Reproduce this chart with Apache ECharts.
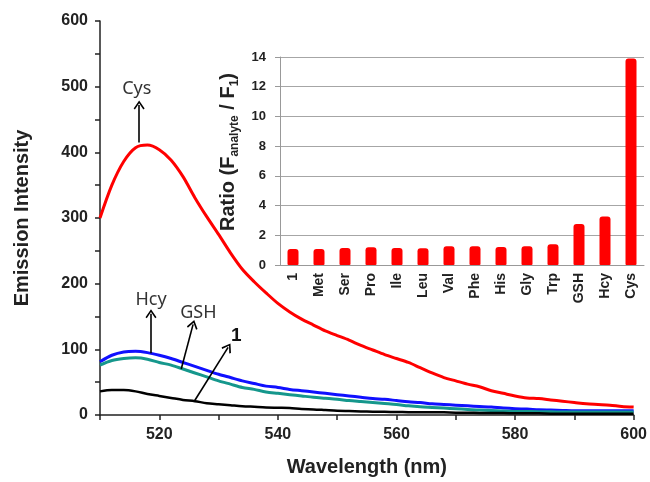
<!DOCTYPE html>
<html>
<head>
<meta charset="utf-8">
<script src="https://cdn.jsdelivr.net/npm/echarts@6/dist/echarts.min.js"></script>
<style>
  html, body { margin: 0; padding: 0; background: #fff; }
  #chart { width: 650px; height: 482px; }
</style>
</head>
<body>
<div id="chart"></div>
<script>
// emission spectra (every 2 nm)
const wavelengths = [510, 512, 514, 516, 518, 520, 522, 524, 526, 528, 530, 532, 534, 536, 538, 540,
  542, 544, 546, 548, 550, 552, 554, 556, 558, 560, 562, 564, 566, 568, 570,
  572, 574, 576, 578, 580, 582, 584, 586, 588, 590, 592, 594, 596, 598, 600]
const cys = [300, 350, 386, 407, 411, 404, 388, 363, 331, 302, 275, 247, 222, 203, 186, 170,
  157, 146, 137, 128, 121, 114, 106, 99, 92, 86, 80, 72, 64, 57, 52,
  47, 43, 37, 33, 29, 26, 25, 23, 21, 19, 17, 16, 15, 13, 12]
const hcy = [81, 91, 96, 97, 95, 91, 86, 80, 74, 68, 62, 57, 52, 48, 44, 42,
  39, 37, 35, 33, 31, 29, 27, 25, 24, 22, 20, 19, 17, 16, 15,
  14, 13, 12, 10.5, 9.5, 9, 8, 7.5, 7, 6.5, 6.5, 6.5, 6.5, 6.5, 6.5]
const gsh = [76, 83, 86, 87, 85, 80, 76, 70, 64, 58, 52, 47, 42, 39, 35, 33,
  31, 29, 27, 25.5, 24, 22, 20.5, 19, 17.5, 16, 14, 12.5, 11.5, 10.5, 9.5,
  8.5, 7.5, 7, 6, 5.5, 5.3, 5, 5, 4.5, 4.5, 4.5, 4.5, 4.5, 4.5, 4.5]
const probe = [36, 38, 38, 36, 32, 29, 26, 23, 21, 18, 16.5, 15, 13.5, 12.5, 11.5, 11,
  10.5, 9, 8.5, 7.5, 6.5, 6, 5.5, 5, 4.8, 4.5, 4.3, 4, 4, 4, 3.5,
  3.5, 3, 3, 3, 2.5, 2.5, 2.5, 2, 2, 2, 2, 2, 2, 2, 2]

// inset: ratio F(analyte)/F(1)
const analytes = ['1', 'Met', 'Ser', 'Pro', 'Ile', 'Leu', 'Val', 'Phe', 'His', 'Gly', 'Trp', 'GSH', 'Hcy', 'Cys']
const ratios = [1.08, 1.08, 1.14, 1.19, 1.14, 1.12, 1.26, 1.26, 1.21, 1.26, 1.39, 2.76, 3.27, 13.9]

const xLabelValues = [520, 540, 560, 580, 600]
const yLabelValues = [0, 100, 200, 300, 400, 500, 600]

const chart = echarts.init(document.getElementById('chart'))

const pairs = ys => wavelengths.map((w, i) => [w, ys[i]])
const arrowHead = 'path://M0,0L6,8L4.6,9.2L0,2.8L-4.6,9.2L-6,8Z'
const tickFont = { fontFamily: 'Liberation Sans', fontWeight: 'bold', fontSize: 16, color: '#222' }
const nameFont = { fontFamily: 'Liberation Sans', fontWeight: 'bold', fontSize: 20, color: '#222' }
const noteFont = { fontFamily: 'Noto Sans', fontSize: 18, color: '#333' }

const arrowLine = (from, to) => ({
  silent: true,
  symbol: ['none', arrowHead],
  symbolSize: [11, 9],
  label: { show: false },
  lineStyle: { color: '#000', width: 1.6, type: 'solid' },
  data: [[{ coord: from }, { coord: to }]]
})
const note = (name, at, extra) => ({
  silent: true,
  symbol: 'circle',
  symbolSize: 0,
  label: Object.assign({ show: true, position: 'inside', formatter: '{b}' }, noteFont, extra || {}),
  data: [{ name: name, coord: at }]
})

const option = {
  animation: false,
  grid: [
    { left: 100, right: 16, top: 21, bottom: 65 },
    { left: 280, right: 6, top: 57, bottom: 217 }
  ],
  xAxis: [
    {
      type: 'value', gridIndex: 0, min: 510, max: 600, interval: 10,
      name: 'Wavelength (nm)', nameLocation: 'middle', nameGap: 42,
      nameTextStyle: nameFont,
      axisLine: { lineStyle: { color: '#222', width: 1.5 } },
      axisTick: { length: 5, lineStyle: { color: '#222', width: 1.5 } },
      axisLabel: Object.assign({ margin: 12, formatter: v => xLabelValues.includes(v) ? v : '' }, tickFont),
      splitLine: { show: false }
    },
    {
      type: 'category', gridIndex: 1, data: analytes,
      axisLine: { lineStyle: { color: '#999' } },
      axisTick: { length: 5, lineStyle: { color: '#999' } },
      axisLabel: { rotate: 90, margin: 8, fontFamily: 'Liberation Sans', fontWeight: 'bold', fontSize: 14, color: '#222' }
    }
  ],
  yAxis: [
    {
      type: 'value', gridIndex: 0, min: 0, max: 600, interval: 50,
      name: 'Emission Intensity', nameLocation: 'middle', nameGap: 68,
      nameTextStyle: nameFont,
      axisLine: { show: true, lineStyle: { color: '#222', width: 1.5 } },
      axisTick: { show: true, length: 5, lineStyle: { color: '#222', width: 1.5 } },
      axisLabel: Object.assign({ margin: 12, formatter: v => yLabelValues.includes(v) ? v : '' }, tickFont),
      splitLine: { show: false }
    },
    {
      type: 'value', gridIndex: 1, min: 0, max: 14, interval: 2,
      name: '{a|Ratio (F}{sub|analyte}{a| / F}{sub|1}{a|)}',
      nameLocation: 'middle', nameGap: 34,
      nameTextStyle: {
        padding: [0, 0, 0, 18],
        rich: {
          a: { fontFamily: 'Liberation Sans', fontWeight: 'bold', fontSize: 20, color: '#222', lineHeight: 24 },
          sub: { fontFamily: 'Liberation Sans', fontWeight: 'bold', fontSize: 12, color: '#222', lineHeight: 12, verticalAlign: 'bottom' }
        }
      },
      axisLine: { show: true, lineStyle: { color: '#999' } },
      axisTick: { show: true, length: 5, lineStyle: { color: '#999' } },
      axisLabel: { margin: 14, fontFamily: 'Liberation Sans', fontWeight: 'bold', fontSize: 13, color: '#222' },
      splitLine: { show: true, lineStyle: { color: '#a6a6a6', width: 1 } }
    }
  ],
  series: [
    {
      name: 'Cys', type: 'line', xAxisIndex: 0, yAxisIndex: 0, data: pairs(cys),
      showSymbol: false, smooth: 0.3, lineStyle: { color: '#ff0000', width: 3 },
      markLine: arrowLine([516.6, 415], [516.6, 472]),
      markPoint: note('Cys', [516.2, 497])
    },
    {
      name: 'Hcy', type: 'line', xAxisIndex: 0, yAxisIndex: 0, data: pairs(hcy),
      showSymbol: false, smooth: 0.3, lineStyle: { color: '#1010ff', width: 3 },
      markLine: arrowLine([518.6, 94], [518.6, 154]),
      markPoint: note('Hcy', [518.6, 176])
    },
    {
      name: 'GSH', type: 'line', xAxisIndex: 0, yAxisIndex: 0, data: pairs(gsh),
      showSymbol: false, smooth: 0.3, lineStyle: { color: '#15978c', width: 3 },
      markLine: arrowLine([523.7, 70], [525.7, 138]),
      markPoint: note('GSH', [526.6, 156])
    },
    {
      name: '1', type: 'line', xAxisIndex: 0, yAxisIndex: 0, data: pairs(probe),
      showSymbol: false, smooth: 0.3, lineStyle: { color: '#000', width: 2.5 },
      markLine: arrowLine([525.9, 21], [531.6, 103]),
      markPoint: note('1', [533, 120], { fontFamily: 'Liberation Sans', fontWeight: 'bold', fontSize: 19, color: '#111' })
    },
    {
      name: 'ratio', type: 'bar', xAxisIndex: 1, yAxisIndex: 1, data: ratios,
      barWidth: 11, z: 5,
      itemStyle: { color: '#ff0000', borderRadius: [3, 3, 1, 1] }
    }
  ]
}

chart.setOption(option)
</script>
</body>
</html>
